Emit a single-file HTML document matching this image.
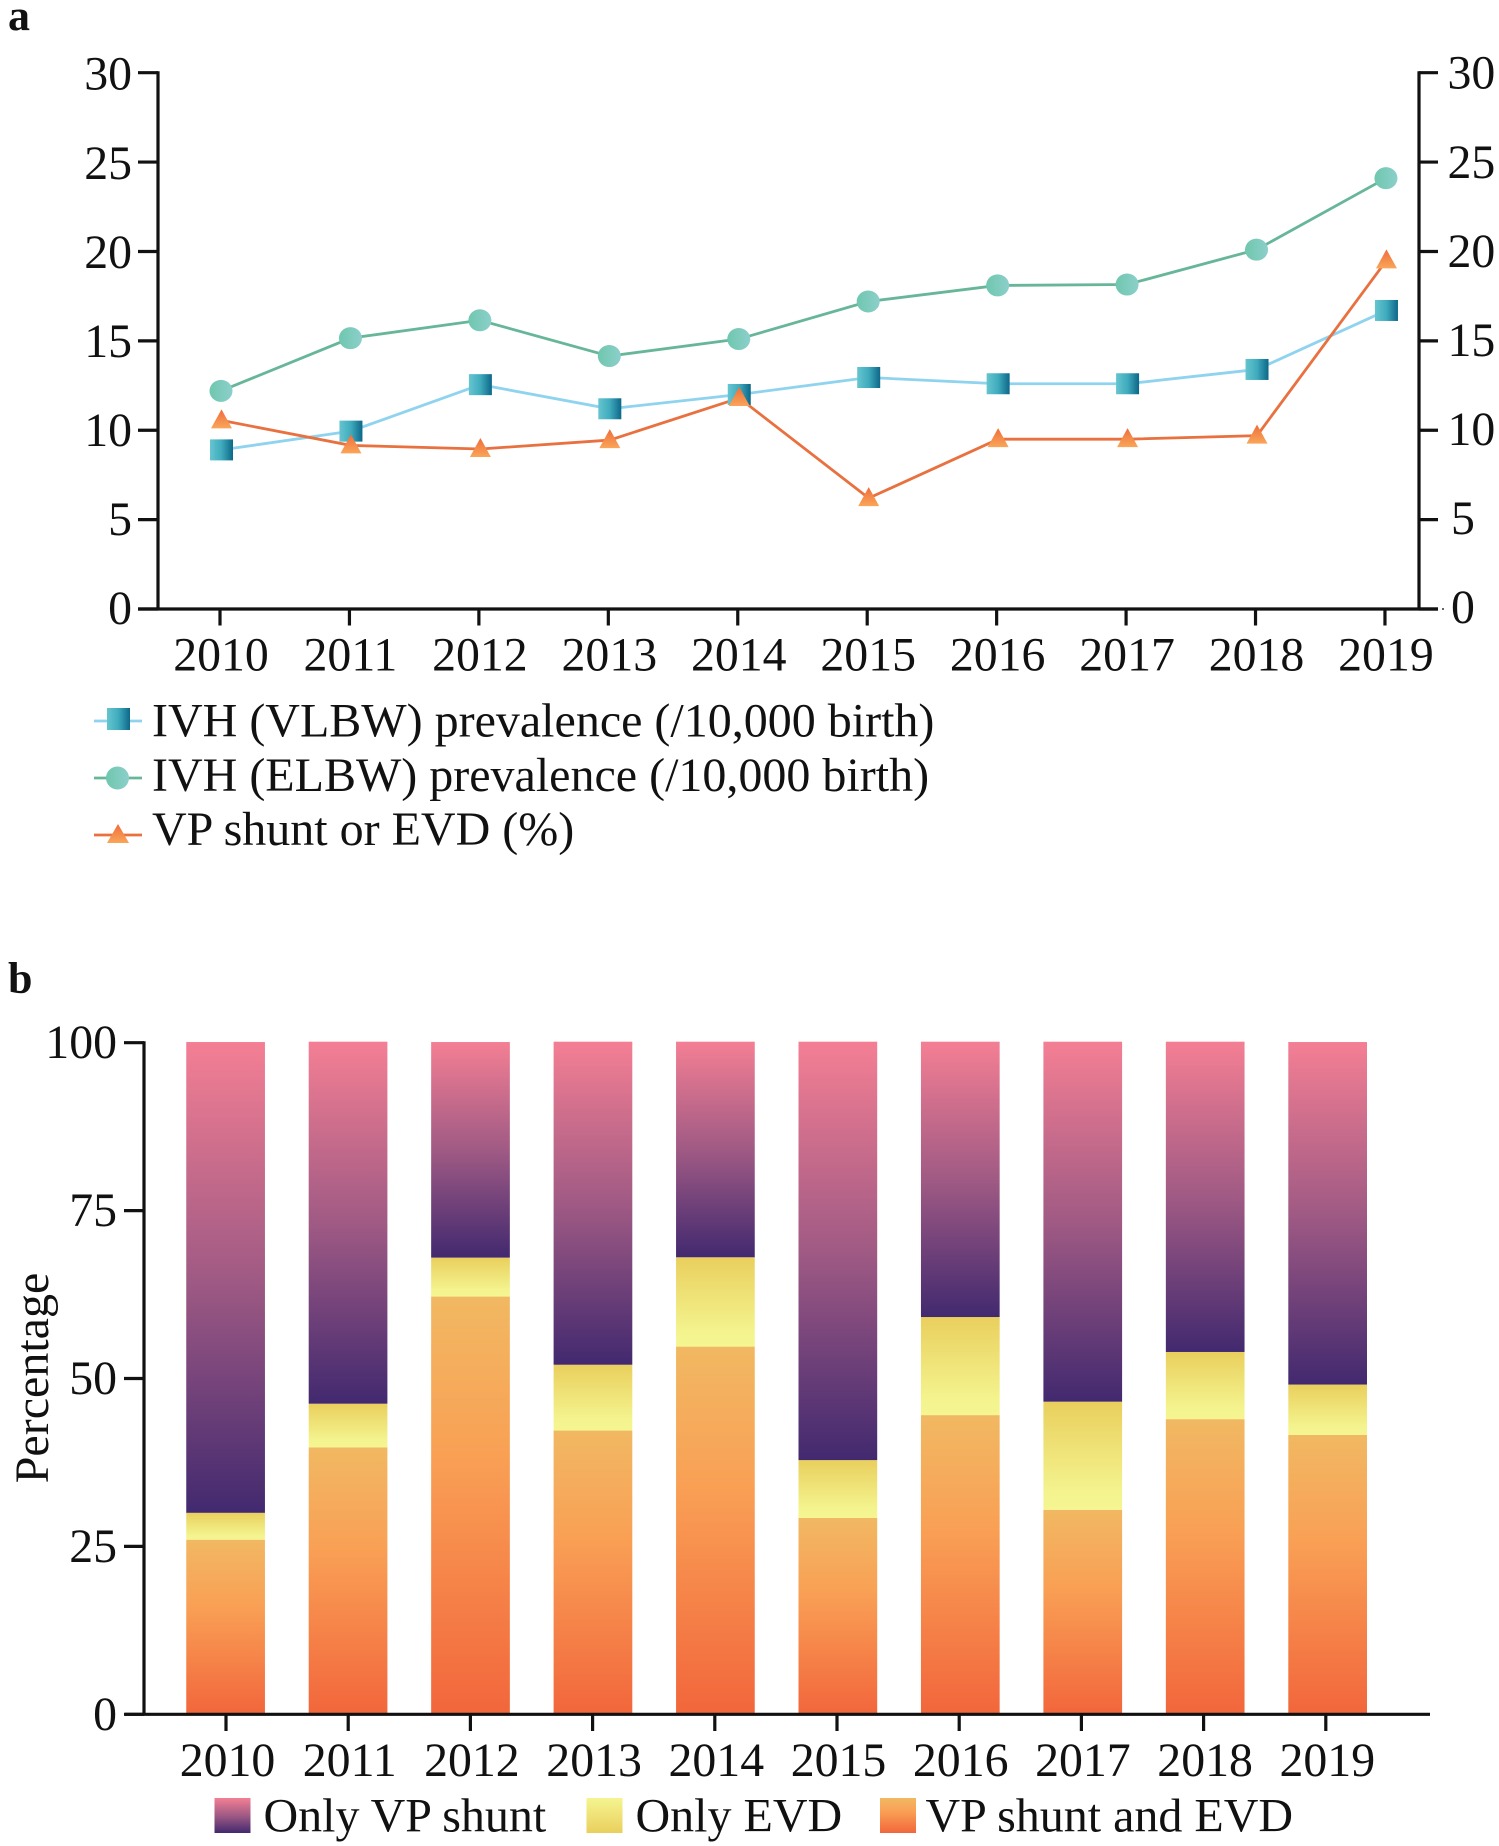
<!DOCTYPE html>
<html>
<head>
<meta charset="utf-8">
<title>IVH prevalence and treatment, 2010-2019</title>
<style>
html,body{margin:0;padding:0;background:#fff;}
svg{display:block;}
text{font-family:"Liberation Serif",serif;fill:#111;}
</style>
</head>
<body>
<svg id="figure" xmlns="http://www.w3.org/2000/svg" width="1499" height="1846" viewBox="0 0 1499 1846">
  <defs>
    <linearGradient id="gradSquare" x1="0" y1="0" x2="1" y2="0">
      <stop offset="0" stop-color="#66c5cf"/><stop offset="0.5" stop-color="#3fabbd"/><stop offset="1" stop-color="#0d6788"/>
    </linearGradient>
    <linearGradient id="gradCircle" x1="0" y1="0" x2="1" y2="0">
      <stop offset="0" stop-color="#6fc7ae"/><stop offset="1" stop-color="#8ccfcb"/>
    </linearGradient>
    <linearGradient id="gradTriangle" x1="0" y1="0" x2="0" y2="1">
      <stop offset="0" stop-color="#ef6d3b"/><stop offset="1" stop-color="#f9a659"/>
    </linearGradient>
    <linearGradient id="gradVP" x1="0" y1="0" x2="0" y2="1">
      <stop offset="0" stop-color="#f47f94"/><stop offset="0.5" stop-color="#a05a84"/><stop offset="1" stop-color="#42296f"/>
    </linearGradient>
    <linearGradient id="gradEVD" x1="0" y1="0" x2="0" y2="1">
      <stop offset="0" stop-color="#e9cf5d"/><stop offset="0.85" stop-color="#f4f48f"/><stop offset="1" stop-color="#f5f591"/>
    </linearGradient>
    <linearGradient id="gradBoth" x1="0" y1="0" x2="0" y2="1">
      <stop offset="0" stop-color="#f1b862"/><stop offset="0.38" stop-color="#f9a055"/><stop offset="1" stop-color="#f2663c"/>
    </linearGradient>
    <linearGradient id="gradEVDLegend" x1="0" y1="0" x2="0" y2="1">
      <stop offset="0" stop-color="#f5f591"/><stop offset="1" stop-color="#e9cf5d"/>
    </linearGradient>
  </defs>

  <text x="8" y="30" font-size="44" font-weight="bold">a</text>
  <text x="8" y="993" font-size="44" font-weight="bold">b</text>

  <g id="panelA"></g>
  <g id="panelB"></g>

  <g font-size="48">
    <g>
      <line x1="94" y1="721" x2="142" y2="721" stroke="#8fd3ef" stroke-width="2.8"/>
      <rect x="107" y="708" width="23" height="22" fill="url(#gradSquare)"/>
      <text x="152" y="736.5">IVH (VLBW) prevalence (/10,000 birth)</text>
    </g>
    <g>
      <line x1="94" y1="778" x2="142" y2="778" stroke="#67b699" stroke-width="2.8"/>
      <circle cx="117.5" cy="778" r="11.5" fill="url(#gradCircle)"/>
      <text x="152" y="791">IVH (ELBW) prevalence (/10,000 birth)</text>
    </g>
    <g>
      <line x1="94" y1="835" x2="142" y2="835" stroke="#e9703f" stroke-width="2.8"/>
      <polygon points="118,824 129,843 107,843" fill="url(#gradTriangle)"/>
      <text x="152" y="845">VP shunt or EVD (%)</text>
    </g>
  </g>

  <g font-size="48">
    <g>
      <rect x="214.5" y="1798" width="36" height="35" fill="url(#gradVP)"/>
      <text x="263.5" y="1831.5">Only VP shunt</text>
    </g>
    <g>
      <rect x="586.5" y="1798" width="36" height="35" fill="url(#gradEVDLegend)"/>
      <text x="635.5" y="1831.5">Only EVD</text>
    </g>
    <g>
      <rect x="880" y="1798" width="36" height="35" fill="url(#gradBoth)"/>
      <text x="925.5" y="1831.5">VP shunt and EVD</text>
    </g>
  </g>

  <text font-size="48" text-anchor="middle" transform="translate(48 1378) rotate(-90)">Percentage</text>
</svg>

<script>
var years = [2010, 2011, 2012, 2013, 2014, 2015, 2016, 2017, 2018, 2019];
var lineTicks = [0, 5, 10, 15, 20, 25, 30];
var barTicks = [0, 25, 50, 75, 100];
var vlbwPrevalence = [8.9, 9.95, 12.55, 11.2, 12.0, 12.95, 12.6, 12.6, 13.4, 16.7];
var elbwPrevalence = [12.2, 15.15, 16.15, 14.15, 15.1, 17.2, 18.1, 18.15, 20.1, 24.1];
var vpShuntOrEvd = [10.55, 9.15, 8.95, 9.45, 11.8, 6.2, 9.5, 9.5, 9.7, 19.5];
var onlyVpShunt = [70.1, 53.9, 32.1, 48.1, 32.1, 62.3, 41.0, 53.6, 46.2, 51.0];
var onlyEvd = [4.0, 6.5, 5.8, 9.8, 13.3, 8.6, 14.6, 16.1, 10.0, 7.5];
var vpShuntAndEvd = [26.0, 39.75, 62.2, 42.25, 54.75, 29.25, 44.55, 30.45, 43.95, 41.6];

var NS = 'http://www.w3.org/2000/svg';
function make(parent, tag, attrs, content) {
  var el = document.createElementNS(NS, tag);
  for (var k in attrs) { el.setAttribute(k, attrs[k]); }
  if (content !== undefined) { el.textContent = content; }
  parent.appendChild(el);
  return el;
}

/* ---------- panel a ---------- */
var panelA = document.getElementById('panelA');
function lineX(i) { return 220 + 129.44 * i; }
function lineY(v) { return 609 - (v / 30) * 536.3; }
var axisColor = '#111';
var axisWidth = 3.2;
var tickFont = 47.8;

var axisLeftA = make(panelA, 'line', {x1: 158, y1: 71.2, x2: 158, y2: 609, stroke: axisColor, 'stroke-width': axisWidth});


var axisRightA = make(panelA, 'line', {x1: 1419, y1: 71.2, x2: 1419, y2: 609, stroke: axisColor, 'stroke-width': axisWidth});


var axisBottomA = make(panelA, 'line', {x1: 138, y1: 609, x2: 1438, y2: 609, stroke: axisColor, 'stroke-width': axisWidth});


var axisDot = make(panelA, 'circle', {cx: 1443, cy: 609, r: 1, fill: '#333'});



lineTicks.forEach(function (t) {
  var y = lineY(t);
  var offset = 17 - (30 - t) / 30 * 2;
  var leftTick = make(panelA, 'line', {x1: 138, y1: y, x2: 158, y2: y, stroke: axisColor, 'stroke-width': axisWidth});
  
  
  var rightTick = make(panelA, 'line', {x1: 1419, y1: y, x2: 1438, y2: y, stroke: axisColor, 'stroke-width': axisWidth});
  
  
  var leftLabel = make(panelA, 'text', {x: 132, y: y + offset, 'font-size': tickFont, 'text-anchor': 'end'}, String(t));
  
  
  var rightLabel = make(panelA, 'text', {x: t < 10 ? 1451 : 1447.5, y: y + offset - 1, 'font-size': tickFont}, String(t));
  
  
});

years.forEach(function (yr, i) {
  var x = lineX(i);
  var tick = make(panelA, 'line', {x1: x, y1: 609, x2: x, y2: 625.5, stroke: axisColor, 'stroke-width': axisWidth});
  
  
  var label = make(panelA, 'text', {x: x + 1, y: 670.5, 'font-size': tickFont, 'text-anchor': 'middle'}, String(yr));
  
  
});

function drawSeries(values, color, dx, name, drawMarker) {
  var pts = values.map(function (v, i) { return (lineX(i) + dx) + ',' + lineY(v); }).join(' ');
  var path = make(panelA, 'polyline', {points: pts, fill: 'none', stroke: color, 'stroke-width': 2.8});
  
  
  return values.map(function (v, i) {
    return function () {
      var m = drawMarker(lineX(i) + dx, lineY(v));
      
      
    };
  });
}
var squareDraws = drawSeries(vlbwPrevalence, '#8fd3ef', 1.5, 'vlbw', function (x, y) {
  return make(panelA, 'rect', {x: x - 11.5, y: y - 10.5, width: 23, height: 21, fill: 'url(#gradSquare)'});
});
var circleDraws = drawSeries(elbwPrevalence, '#67b699', 1, 'elbw', function (x, y) {
  return make(panelA, 'ellipse', {cx: x, cy: y, rx: 11.5, ry: 11, fill: 'url(#gradCircle)'});
});
var triangleDraws = drawSeries(vpShuntOrEvd, '#e9703f', 1.5, 'vp-shunt-or-evd', function (x, y) {
  return make(panelA, 'polygon', {points: x + ',' + (y - 11) + ' ' + (x + 10.5) + ',' + (y + 8) + ' ' + (x - 10.5) + ',' + (y + 8), fill: 'url(#gradTriangle)'});
});
squareDraws.concat(circleDraws, triangleDraws).forEach(function (fn) { fn(); });

/* ---------- panel b ---------- */
var panelB = document.getElementById('panelB');
function barX(i) { return 225.6 + 122.45 * i; }
function tickX(i) { return 226 + 122.2 * i; }
function barY(v) { return 1714.3 - (v / 100) * 671.6; }
var barWidth = 78.7;

years.forEach(function (yr, i) {
  var x = barX(i) - barWidth / 2;
  var both = vpShuntAndEvd[i];
  var evd = onlyEvd[i];
  var vp = onlyVpShunt[i];
  var segBoth = make(panelB, 'rect', {x: x, y: barY(both), width: barWidth, height: barY(0) - barY(both), fill: 'url(#gradBoth)'});
  
  
  var segEvd = make(panelB, 'rect', {x: x, y: barY(both + evd), width: barWidth, height: barY(both) - barY(both + evd), fill: 'url(#gradEVD)'});
  
  
  var segVp = make(panelB, 'rect', {x: x, y: barY(both + evd + vp), width: barWidth, height: barY(both + evd) - barY(both + evd + vp), fill: 'url(#gradVP)'});
  
  
  var tick = make(panelB, 'line', {x1: tickX(i), y1: 1714.3, x2: tickX(i), y2: 1731, stroke: axisColor, 'stroke-width': axisWidth});
  
  
  var label = make(panelB, 'text', {x: tickX(i) + 1.5, y: 1776, 'font-size': tickFont, 'text-anchor': 'middle'}, String(yr));
  
  
});

var axisLeftB = make(panelB, 'line', {x1: 144, y1: 1041.2, x2: 144, y2: 1714.3, stroke: axisColor, 'stroke-width': axisWidth});


var axisBottomB = make(panelB, 'line', {x1: 125, y1: 1714.3, x2: 1430, y2: 1714.3, stroke: axisColor, 'stroke-width': axisWidth});



barTicks.forEach(function (t) {
  var y = barY(t);
  var tick = make(panelB, 'line', {x1: 124, y1: y, x2: 144, y2: y, stroke: axisColor, 'stroke-width': axisWidth});
  
  
  var label = make(panelB, 'text', {x: 117, y: y + 15.5, 'font-size': tickFont, 'text-anchor': 'end'}, String(t));
  
  
});
</script>
</body>
</html>
